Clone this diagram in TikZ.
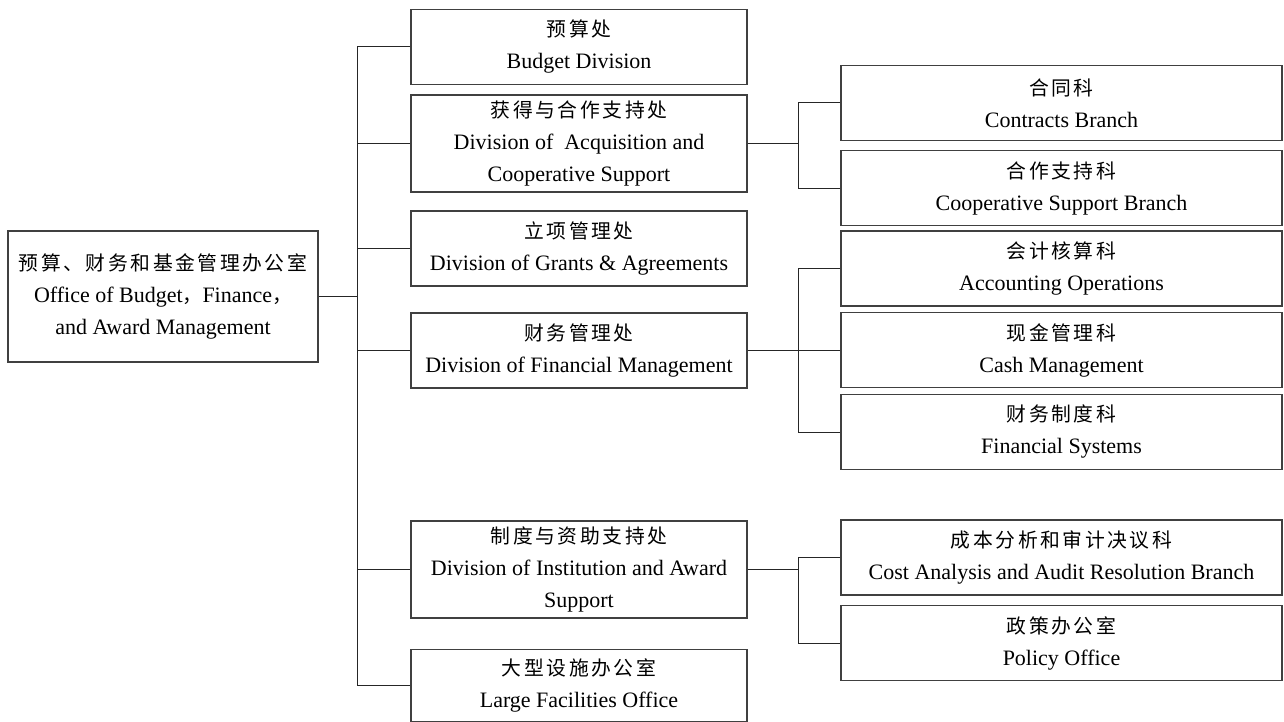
\documentclass[tikz,border=0pt]{standalone}
\usepackage{fontspec}
\setmainfont{Liberation Serif}
\newfontfamily\cjk[Scale=0.9, LetterSpace=13]{Noto Sans CJK SC}
\tikzset{
  orgbox/.style={draw=black!75, line width=0.6pt, rectangle, align=center, inner sep=0pt, font=\fontsize{11pt}{16pt}\selectfont},
  rootbox/.style={orgbox, minimum width=155pt, minimum height=65.5pt},
  divbox/.style={orgbox, minimum width=168pt, minimum height=37.5pt},
  brbox/.style={orgbox, minimum width=220.5pt, minimum height=37.5pt},
  link/.style={draw=black!85, line width=0.5pt}
}
\begin{document}
\begin{tikzpicture}[x=0.5pt, y=-0.5pt]
    \useasboundingbox (0,0) rectangle (1284,722);

    % Office
    \node[rootbox] (office) at (163,296.5) {{\cjk 预算、财务和基金管理办公室}\\Office of Budget{\cjk ，}Finance{\cjk ，}\\and Award Management};

    % Divisions
    \node[divbox] (budget) at (579,47) {{\cjk 预算处}\\Budget Division};
    \node[divbox, minimum height=48.5pt] (acq) at (579,143.5) {{\cjk 获得与合作支持处}\\Division of\ \ Acquisition and\\Cooperative Support};
    \node[divbox] (grants) at (579,248.5) {{\cjk 立项管理处}\\Division of Grants \& Agreements};
    \node[divbox] (fin) at (579,350.5) {{\cjk 财务管理处}\\Division of Financial Management};
    \node[divbox, minimum height=48.5pt] (inst) at (579,569.5) {{\cjk 制度与资助支持处}\\Division of Institution and Award\\Support};
    \node[divbox, minimum height=36pt] (large) at (579,685.5) {{\cjk 大型设施办公室}\\Large Facilities Office};

    % Branches
    \node[brbox] (contracts) at (1061.5,103) {{\cjk 合同科}\\Contracts Branch};
    \node[brbox] (coop) at (1061.5,188) {{\cjk 合作支持科}\\Cooperative Support Branch};
    \node[brbox] (acct) at (1061.5,268.5) {{\cjk 会计核算科}\\Accounting Operations};
    \node[brbox] (cash) at (1061.5,350) {{\cjk 现金管理科}\\Cash Management};
    \node[brbox] (fsys) at (1061.5,432) {{\cjk 财务制度科}\\Financial Systems};
    \node[brbox] (cost) at (1061.5,557.5) {{\cjk 成本分析和审计决议科}\\Cost Analysis and Audit Resolution Branch};
    \node[brbox] (policy) at (1061.5,643) {{\cjk 政策办公室}\\Policy Office};

    % Bus lines
    \coordinate (bus1) at (357,0);
    \coordinate (bus2) at (798,0);

    % Office to divisions
    \draw[link] (office.east) -- (office.east -| bus1);
    \draw[link] (bus1 |- budget.west) -- (bus1 |- large.west);
    \draw[link] (bus1 |- budget.west) -- (budget.west);
    \draw[link] (bus1 |- acq.west) -- (acq.west);
    \draw[link] (bus1 |- grants.west) -- (grants.west);
    \draw[link] (bus1 |- fin.west) -- (fin.west);
    \draw[link] (bus1 |- inst.west) -- (inst.west);
    \draw[link] (bus1 |- large.west) -- (large.west);

    % Acquisition branches
    \draw[link] (acq.east) -- (acq.east -| bus2);
    \draw[link] (bus2 |- contracts.west) -- (bus2 |- coop.west);
    \draw[link] (bus2 |- contracts.west) -- (contracts.west);
    \draw[link] (bus2 |- coop.west) -- (coop.west);

    % Financial branches
    \draw[link] (fin.east) -- (fin.east -| bus2);
    \draw[link] (bus2 |- acct.west) -- (bus2 |- fsys.west);
    \draw[link] (bus2 |- acct.west) -- (acct.west);
    \draw[link] (bus2 |- cash.west) -- (cash.west);
    \draw[link] (bus2 |- fsys.west) -- (fsys.west);

    % Institution branches
    \draw[link] (inst.east) -- (inst.east -| bus2);
    \draw[link] (bus2 |- cost.west) -- (bus2 |- policy.west);
    \draw[link] (bus2 |- cost.west) -- (cost.west);
    \draw[link] (bus2 |- policy.west) -- (policy.west);
\end{tikzpicture}
\end{document}
